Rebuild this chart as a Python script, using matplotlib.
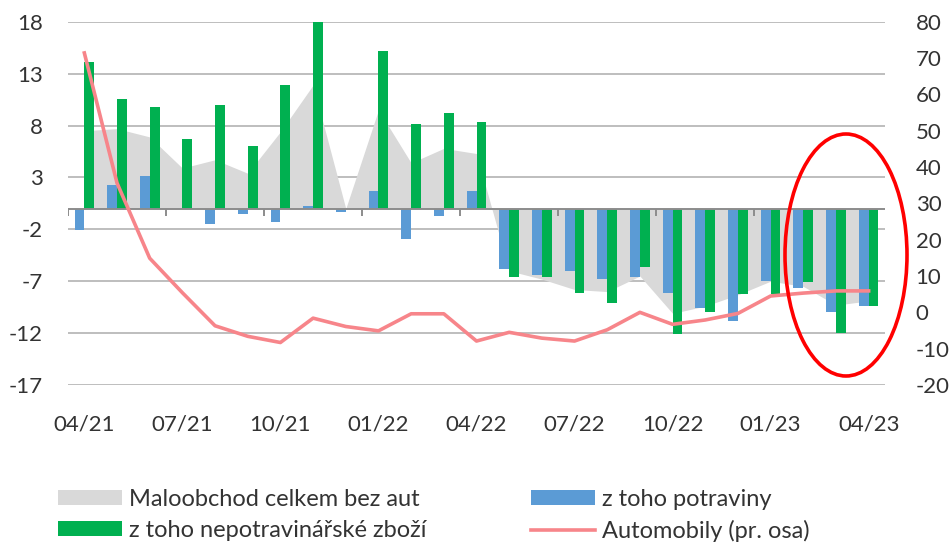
import numpy as np
import matplotlib
matplotlib.use("Agg")
import matplotlib.pyplot as plt
from matplotlib.patches import Patch, Ellipse
from matplotlib.lines import Line2D

# ---- data ----
months = ["04/21", "05/21", "06/21", "07/21", "08/21", "09/21", "10/21", "11/21", "12/21",
          "01/22", "02/22", "03/22", "04/22", "05/22", "06/22", "07/22", "08/22", "09/22",
          "10/22", "11/22", "12/22", "01/23", "02/23", "03/23", "04/23"]
tick_labels = ["04/21", "07/21", "10/21", "01/22", "04/22", "07/22", "10/22", "01/23", "04/23"]

retail_total = [7.5, 7.7, 6.9, 3.9, 4.7, 3.4, 7.4, 11.9, 0.0, 9.5, 4.4, 5.8, 5.3,
                -6.0, -6.8, -7.8, -8.0, -6.5, -10.1, -9.4, -8.3, -7.0, -7.5, -9.3, -8.9]
food = [-2.1, 2.3, 3.1, 0.0, -1.5, -0.55, -1.3, 0.2, -0.3, 1.7, -2.9, -0.7, 1.7,
        -5.8, -6.4, -6.0, -6.75, -6.6, -8.1, -9.6, -10.8, -7.0, -7.7, -10.0, -9.4]
nonfood = [14.1, 10.6, 9.8, 6.7, 10.0, 6.0, 11.9, 18.0, 0.0, 15.2, 8.1, 9.2, 8.3,
           -6.6, -6.6, -8.1, -9.1, -5.6, -12.1, -10.0, -8.2, -8.2, -7.1, -12.0, -9.4]
cars = [71.4, 35.6, 14.9, 5.4, -3.7, -6.6, -8.3, -1.6, -3.9, -5.1, -0.4, -0.4, -7.9,
        -5.5, -7.1, -7.9, -4.8, 0.0, -3.3, -2.1, -0.3, 4.5, 5.3, 5.9, 5.9]

left_ticks = [-17, -12, -7, -2, 3, 8, 13, 18]
right_ticks = [-20, -10, 0, 10, 20, 30, 40, 50, 60, 70, 80]

series_names = ["Maloobchod celkem bez aut", "z toho nepotravinářské zboží",
                "z toho potraviny", "Automobily (pr. osa)"]

# ---- style ----
plt.rcParams['font.family'] = ['Lato', 'DejaVu Sans']
plt.rcParams['axes.unicode_minus'] = False
FS = 16
LFS = 17
TXT = '#333333'
GRAY_AREA = '#d9d9d9'
BLUE = '#5b9bd5'
GREEN = '#00b050'
PINK = '#f7858a'
GRID = '#b3b3b3'

W, H = 950, 549
fig = plt.figure(figsize=(W / 100, H / 100), dpi=100)
L, R, T, B = 68, 885, 21.7, 385
ax = fig.add_axes([L / W, 1 - B / H, (R - L) / W, (B - T) / H])

x = np.arange(len(months))
ax.set_xlim(-0.5, len(months) - 0.5)
ax.set_ylim(left_ticks[0], left_ticks[-1])
ax.set_yticks(left_ticks)
ax.grid(axis='y', color=GRID, lw=1.2, zorder=0)
ax.set_axisbelow(True)

ax.fill_between(x, retail_total, 0, color=GRAY_AREA, lw=0, zorder=1)
bw = 0.3
ax.bar(x - bw / 2, food, bw, color=BLUE, zorder=2, lw=0)
ax.bar(x + bw / 2, nonfood, bw, color=GREEN, zorder=2, lw=0)
ax.axhline(0, color='#8c8c8c', lw=1.4, zorder=3)

# category tick marks on the zero line, every 3 months at category boundaries
y0, y1 = ax.get_ylim()
zero_frac = (0 - y0) / (y1 - y0)
tick_len = 7 / (B - T)
bounds = x[::3][:-1] - 0.5
ax.vlines(bounds, zero_frac - tick_len, zero_frac, color='#8c8c8c', lw=1.4,
          transform=ax.get_xaxis_transform(), zorder=3)

ax.set_xticks(x[::3])
ax.set_xticklabels(tick_labels)
ax.tick_params(axis='x', length=0, pad=21, labelsize=FS, labelcolor=TXT)
ax.tick_params(axis='y', length=0, pad=18, labelsize=FS, labelcolor=TXT)
for s in ax.spines.values():
    s.set_visible(False)

ax2 = ax.twinx()
ax2.set_ylim(right_ticks[0], right_ticks[-1])
ax2.set_yticks(right_ticks)
ax2.plot(x, cars, color=PINK, lw=2.6, zorder=5, solid_joinstyle='round')
ax2.tick_params(axis='y', length=0, pad=22, labelsize=FS, labelcolor=TXT)
for s in ax2.spines.values():
    s.set_visible(False)

# red ellipse annotation
ell = Ellipse((846 / W, 1 - 255 / H), 122 / W, 242 / H, transform=fig.transFigure,
              fill=False, edgecolor='#ff0000', lw=2.6, zorder=10)
fig.patches.append(ell)

# legends (two columns)
h_gray = Patch(facecolor=GRAY_AREA, edgecolor='none')
h_green = Patch(facecolor=GREEN, edgecolor='none')
h_blue = Patch(facecolor=BLUE, edgecolor='none')
h_pink = Line2D([0], [0], color=PINK, lw=2.6)

fpx = LFS * 100 / 72
common = dict(loc='upper left', frameon=False, fontsize=LFS, borderpad=0, borderaxespad=0,
              handlelength=64 / fpx, handleheight=14 / fpx, handletextpad=7 / fpx,
              labelspacing=0.42, labelcolor=TXT)
fig.legend([h_gray, h_green], series_names[:2], bbox_to_anchor=(58 / W, 1 - 489 / H), **common)
fig.legend([h_blue, h_pink], series_names[2:], bbox_to_anchor=(531 / W, 1 - 489 / H), **common)

fig.savefig("out.png", dpi=100)
